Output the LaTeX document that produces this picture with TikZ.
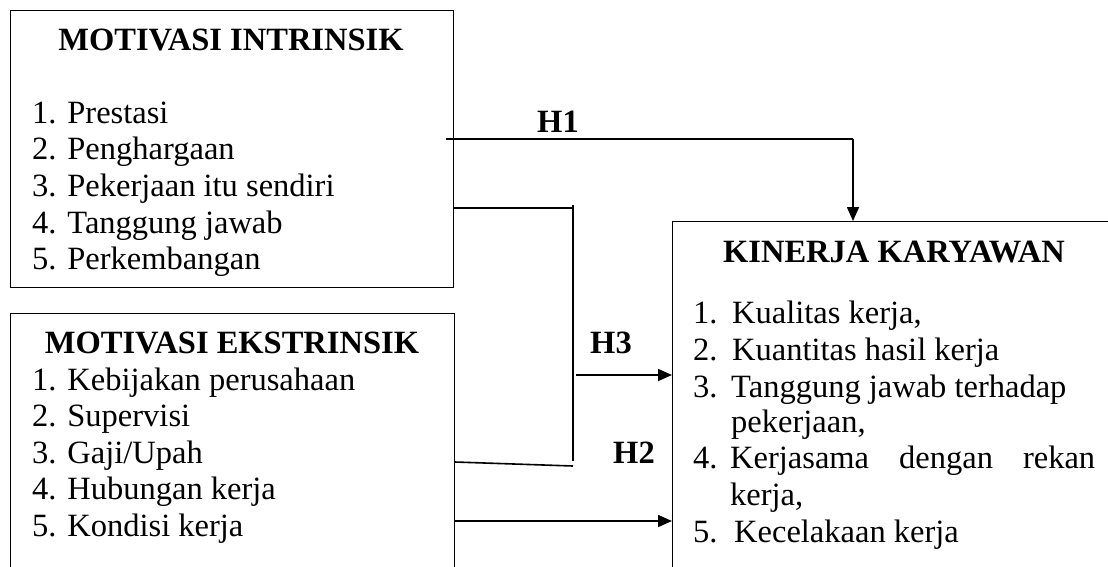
\documentclass[tikz,border=0pt]{standalone}
\usepackage{fontspec}
\setmainfont{Liberation Serif}
\usetikzlibrary{arrows.meta}
\tikzset{
  kotak/.style={draw, line width=1pt, inner sep=0pt, anchor=north west},
  teks/.style={anchor=base west, inner sep=0pt, font=\fontsize{32.5}{36}\selectfont},
  judul/.style={anchor=base, inner sep=0pt, font=\fontsize{32.5}{36}\selectfont\bfseries},
  garis/.style={line width=1.6pt},
  panah/.style={line width=1.6pt, -{Triangle[length=14pt,width=12pt]}}
}
\begin{document}
\begin{tikzpicture}[x=1pt,y=-1pt]
\useasboundingbox (0,0) rectangle (1108,566);
\clip (0,0) rectangle (1108,566);
% kotak variabel
\node[kotak, minimum width=443pt, minimum height=277pt] (intr) at (10,10) {};
\node[kotak, minimum width=444pt, minimum height=300pt] (ekst) at (10,313) {};
\node[kotak, minimum width=460pt, minimum height=380pt] (kin) at (672,221) {};

% isi motivasi intrinsik
\node[judul] (jintr) at (231,50) {MOTIVASI INTRINSIK};
\foreach \t [count=\i] in {Prestasi,Penghargaan,Pekerjaan itu sendiri,Tanggung jawab,Perkembangan}
  \node[teks] (a\i) at (32,{123+36.7*(\i-1)}) {\i.\space\t};

% isi motivasi ekstrinsik
\node[judul] (jekst) at (232,353) {MOTIVASI EKSTRINSIK};
\foreach \t [count=\i] in {Kebijakan perusahaan,Supervisi,Gaji/Upah,Hubungan kerja,Kondisi kerja}
  \node[teks] (b\i) at (32,{390+36.6*(\i-1)}) {\i.\space\t};

% isi kinerja karyawan
\node[judul] (jkin) at (894,262) {KINERJA KARYAWAN};
\node[teks] (c1) at (693,323) {1.};
\node[teks] (c1t) at (732,323) {Kualitas kerja,};
\node[teks] (c2) at (693,360) {2.};
\node[teks] (c2t) at (732,360) {Kuantitas hasil kerja};
\node[teks] (c3) at (693,397) {3.};
\node[teks] (c3t) at (731,397) {Tanggung jawab terhadap};
\node[teks] (c3u) at (731,432) {pekerjaan,};
\node[teks] (c4) at (693,468) {4.};
\node[teks] (c4t) at (730,468) {\makebox[365pt][s]{Kerjasama dengan rekan}};
\node[teks] (c4u) at (730,505) {kerja,};
\node[teks] (c5) at (693,542) {5.};
\node[teks] (c5t) at (734,542) {Kecelakaan kerja};

% titik bantu garis
\coordinate (p1) at (446,139);
\coordinate (p2) at (853,139);
\coordinate (q1) at (intr.east |- 0,208);
\coordinate (q2) at (573,208);
\coordinate (q3) at (573,205);
\coordinate (q4) at (573,461);
\coordinate (r1) at (ekst.east |- 0,462);
\coordinate (r2) at (573,466);
\coordinate (s1) at (576,375);
\coordinate (t1) at (ekst.east |- 0,521);

% hubungan antar variabel
\draw[garis] (p1) -- (p2);
\draw[panah] (p2) -- (kin.north -| p2);
\draw[garis] (q1) -- (q2);
\draw[garis] (q3) -- (q4);
\draw[garis] (r1) -- (r2);
\draw[panah] (s1) -- (kin.west |- s1);
\draw[panah] (t1) -- (kin.west |- t1);

\node[judul] (h1) at (558,132) {H1};
\node[judul] (h3) at (611,353) {H3};
\node[judul] (h2) at (634,463) {H2};
\end{tikzpicture}
\end{document}
